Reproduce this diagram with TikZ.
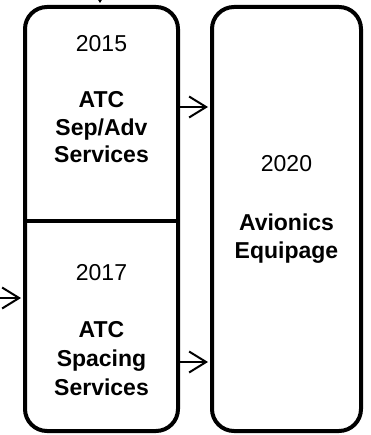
\documentclass[tikz,border=0pt]{standalone}
\usepackage{fontspec}
\setmainfont{Liberation Sans}
\usetikzlibrary{arrows.meta}
\begin{document}
\begin{tikzpicture}[x=1pt,y=-1pt,
  box/.style={draw, line width=4pt, rounded corners=22pt, inner sep=0pt, minimum height=424pt},
  txt/.style={align=center, inner sep=0pt, anchor=base, font=\fontsize{23}{#1}\selectfont},
  arr/.style={line width=2pt, shorten >=2pt, -{Straight Barb[length=17pt,width=21pt]}}]
\useasboundingbox (0,0) rectangle (370,435);
\node[box, minimum width=153pt] (L) at (101.5,219) {};
\node[box, minimum width=149pt] (R) at (286.5,219) {};
\coordinate (d1) at (L.west |- 0,221);
\coordinate (d2) at (L.east |- 0,221);
\draw[line width=4pt] (d1) -- (d2);
\node[txt=27.5] (t1) at (101.5,163) {2015\\[29pt]\textbf{ATC}\\\textbf{Sep/Adv}\\\textbf{Services}};
\node[txt=29] (t2) at (101.5,395) {2017\\[28pt]\textbf{ATC}\\\textbf{Spacing}\\\textbf{Services}};
\node[txt=28] (t3) at (286.5,258) {2020\\[30pt]\textbf{Avionics}\\\textbf{Equipage}};
\coordinate (in0) at (100,-15);
\coordinate (in1) at (-5,298);
\draw[arr] (in0) -- (in0 |- L.north);
\draw[arr] (in1) -- (in1 -| L.west);
\draw[arr] (L.east |- 0,107) -- (R.west |- 0,107);
\draw[arr] (L.east |- 0,362) -- (R.west |- 0,362);
\end{tikzpicture}
\end{document}
